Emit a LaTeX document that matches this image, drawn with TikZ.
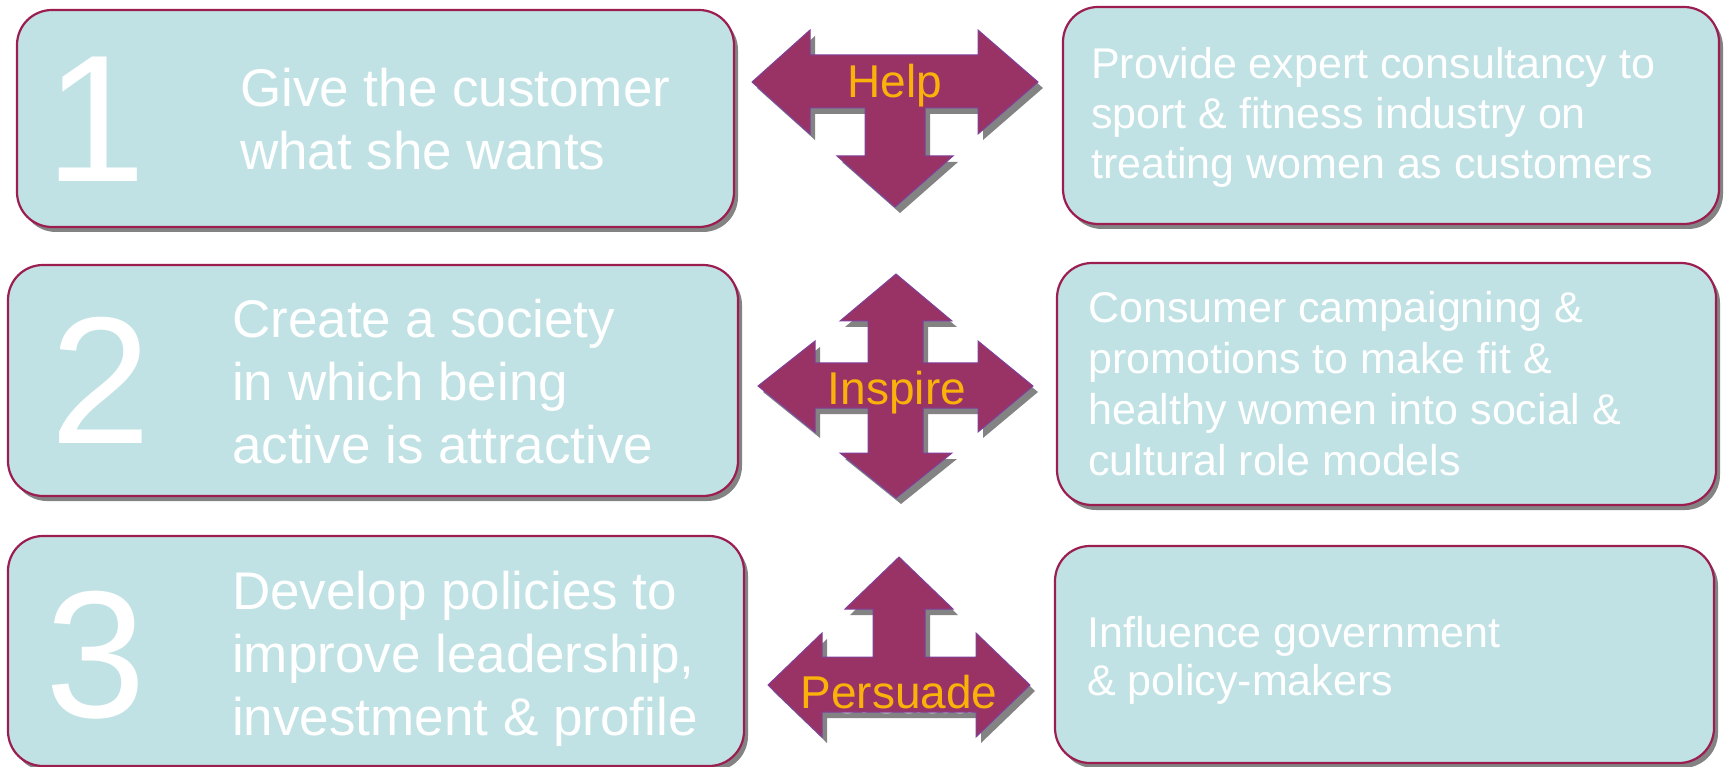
\documentclass[tikz,border=0pt]{standalone}
\usepackage{fontspec}
\setmainfont{Liberation Sans}
\usetikzlibrary{shadows}

\definecolor{boxfill}{HTML}{C0E2E4}
\definecolor{boxline}{HTML}{9C1D4F}
\definecolor{arrowfill}{HTML}{993366}
\definecolor{arrowline}{HTML}{80409A}
\definecolor{labelcol}{HTML}{FAB20A}
\definecolor{shadowgray}{HTML}{838383}

% outlines of the three multi-way arrows (px units, y grows downwards)
\newcommand{\helpshape}{(752,82) -- (810,30) -- (810,55) -- (978,55) -- (978,30)
  -- (1038,82) -- (978,134) -- (978,108) -- (925,108) -- (925,156) -- (953,156)
  -- (895,207) -- (837,156) -- (865,156) -- (865,108) -- (810,108) -- (810,134) -- cycle}
\newcommand{\inspireshape}{(896,274) -- (952,321) -- (923,321) -- (923,363)
  -- (978,363) -- (978,341) -- (1033,386) -- (978,432) -- (978,408) -- (923,408)
  -- (923,453) -- (952,453) -- (896,498) -- (840,453) -- (868,453) -- (868,408)
  -- (815,408) -- (815,432) -- (758,386) -- (815,341) -- (815,363) -- (868,363)
  -- (868,321) -- (840,321) -- cycle}
\newcommand{\persuadeshape}{(899,557) -- (953,609) -- (925,609) -- (925,657)
  -- (976,657) -- (976,633) -- (1030,685) -- (976,737) -- (976,712) -- (822,712)
  -- (822,737) -- (768,685) -- (822,633) -- (822,657) -- (873,657) -- (873,609)
  -- (845,609) -- cycle}

\begin{document}
\begin{tikzpicture}[x=1pt,y=-1pt,
  box/.style={draw=boxline, line width=2.2pt, fill=boxfill, rounded corners=35pt,
    general shadow={fill=shadowgray, shadow xshift=4pt, shadow yshift=-5pt}},
  numtext/.style={anchor=base west, inner sep=0pt, text=white,
    font=\fontsize{181}{181}\selectfont},
  bigtext/.style={anchor=base west, inner sep=0pt, text=white, align=left,
    font=\fontsize{53}{63}\selectfont},
  smalltext/.style={anchor=base west, inner sep=0pt, text=white, align=left,
    font=\fontsize{43}{50}\selectfont},
  arrowbody/.style={fill=arrowfill, draw=arrowline, line width=1pt},
  arrowshadow/.style={fill=shadowgray},
  arrowlabel/.style={anchor=base, inner sep=0pt, text=labelcol,
    font=\fontsize{46}{46}\selectfont}]
\useasboundingbox (0,0) rectangle (1725,767);

% left-hand column
\node[box, minimum width=717pt, minimum height=217pt] (b1) at (375.5,118.5) {};
\node[box, minimum width=730pt, minimum height=231pt] (b2) at (373,380.5) {};
\node[box, minimum width=736pt, minimum height=230pt] (b3) at (376,651) {};

% right-hand column
\node[box, minimum width=656pt, minimum height=217pt] (r1) at (1391,115.5) {};
\node[box, minimum width=659pt, minimum height=242pt] (r2) at (1386.5,384) {};
\node[box, minimum width=659pt, minimum height=217pt] (r3) at (1384.5,654.5) {};

% numbers
\node[numtext] (n1) at (45,182) {1};
\node[numtext] (n2) at (50,443) {2};
\node[numtext] (n3) at (45,717) {3};

% aims (anchored on the baseline of the last line)
\node[bigtext] (t1) at (240,170) {Give the customer\\what she wants};
\node[bigtext] (t2) at (232,463) {Create a society\\in which being\\active is attractive};
\node[bigtext] (t3) at (232,735) {Develop policies to\\improve leadership,\\investment \& profile};

% actions
\node[smalltext] (u1) at (1091,179) {Provide expert consultancy to\\sport \& fitness industry on\\treating women as customers};
\node[smalltext, font=\fontsize{43}{51}\selectfont] (u2) at (1088,475) {Consumer campaigning \&\\promotions to make fit \&\\healthy women into social \&\\cultural role models};
\node[smalltext, font=\fontsize{43}{48}\selectfont] (u3) at (1087,695) {Influence government\\\& policy-makers};

% Help arrow
\fill[arrowshadow, shift={(5,6)}] \helpshape;
\filldraw[arrowbody] \helpshape;
\node[arrowlabel] (help) at (895,98) {Help};

% Inspire arrow
\fill[arrowshadow, shift={(5,6)}] \inspireshape;
\filldraw[arrowbody] \inspireshape;
\node[arrowlabel] (inspire) at (897,405) {Inspire};

% Persuade arrow, with the soft text shadow under its label
\fill[arrowshadow, shift={(5,6)}] \persuadeshape;
\node[arrowlabel, text=gray!30] (persuadeshade) at (902,713) {Persuade};
\filldraw[arrowbody] \persuadeshape;
\node[arrowlabel] (persuade) at (899,708) {Persuade};
\end{tikzpicture}
\end{document}
